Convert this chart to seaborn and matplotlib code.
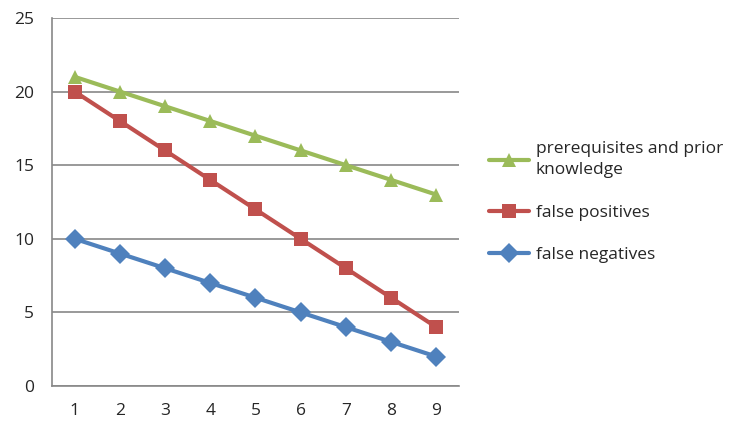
import pandas as pd
import matplotlib.pyplot as plt
import seaborn as sns

# --- Datos ---
categorias = [1, 2, 3, 4, 5, 6, 7, 8, 9]
prerequisitos = [21, 20, 19, 18, 17, 16, 15, 14, 13]
falsos_positivos = [20, 18, 16, 14, 12, 10, 8, 6, 4]
falsos_negativos = [10, 9, 8, 7, 6, 5, 4, 3, 2]
nombres = ["prerequisites and prior\nknowledge", "false positives", "false negatives"]

df = pd.DataFrame({
    "x": categorias * 3,
    "valor": prerequisitos + falsos_positivos + falsos_negativos,
    "serie": [nombres[0]] * 9 + [nombres[1]] * 9 + [nombres[2]] * 9,
})

colores = {nombres[0]: "#9BBB59", nombres[1]: "#C0504D", nombres[2]: "#4F81BD"}
marcadores = {nombres[0]: "^", nombres[1]: "s", nombres[2]: "D"}

sns.set_style("white")
plt.rcParams["font.family"] = ["Open Sans", "DejaVu Sans"]

fig = plt.figure(figsize=(7.37, 4.30), dpi=100)
ax = fig.add_axes([0.0706, 0.1023, 0.552, 0.856])

sns.lineplot(data=df, x="x", y="valor", hue="serie", style="serie",
             palette=colores, markers=marcadores, dashes=False,
             linewidth=3, markersize=10, markeredgewidth=0, ax=ax)

ax.set_xlim(0.5, 9.5)
ax.set_ylim(0, 25)
ax.set_yticks([0, 5, 10, 15, 20, 25])
ax.set_xticks(categorias)
ax.set_xticks([c - 0.5 for c in categorias] + [9.5], minor=True)
ax.tick_params(axis="x", which="major", length=0, pad=12, labelsize=12.5)
ax.tick_params(axis="x", which="minor", length=5, width=1.2, color="#888888", direction="out")
ax.tick_params(axis="y", length=5, width=1.2, color="#888888", direction="out", pad=8, labelsize=12.5)
ax.grid(axis="y", color="#888888", linewidth=1.2)
ax.set_axisbelow(True)

for lado in ["top", "right"]:
    ax.spines[lado].set_visible(False)
for lado in ["left", "bottom"]:
    ax.spines[lado].set_color("#888888")
    ax.spines[lado].set_linewidth(1.2)

ax.set_xlabel("")
ax.set_ylabel("")

leg = ax.legend(loc="upper left", bbox_to_anchor=(1.035, 0.708), frameon=False,
                fontsize=12.5, handlelength=2.3, handletextpad=0.4, labelspacing=1.5)
leg.get_texts()[0].set_linespacing(1.45)

plt.savefig("out.png", dpi=100)
